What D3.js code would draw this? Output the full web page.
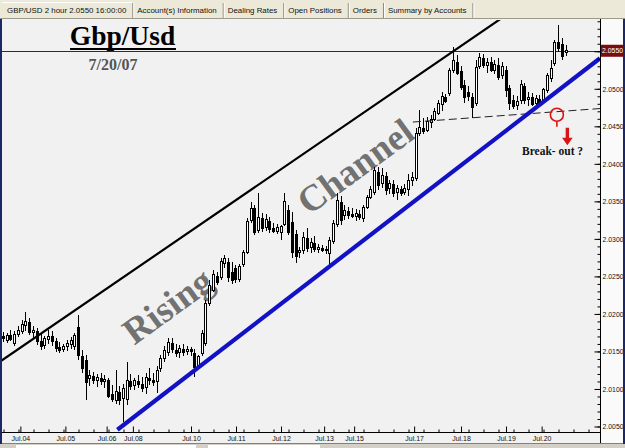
<!DOCTYPE html>
<html>
<head>
<meta charset="utf-8">
<script src="https://cdn.jsdelivr.net/npm/d3@7"></script>
<style>
  html, body { margin: 0; padding: 0; background: #ece9d8; overflow: hidden; }
  svg { display: block; }
</style>
</head>
<body>
<div id="chart"></div>
<script>
// GBP/USD 2 hour candles, Jul 04 - Jul 20 2007
const opens = [2.0170,2.0165,2.0171,2.0161,2.0173,2.0177,2.0185,2.0189,2.0175,2.0177,
  2.0163,2.0158,2.0166,2.0170,2.0163,2.0155,2.0153,2.0157,2.0159,2.0157,
  2.0182,2.0143,2.0138,2.0114,2.0117,2.0111,2.0114,2.0110,2.0111,2.0093,
  2.0085,2.0095,2.0087,2.0086,2.0110,2.0105,2.0110,2.0106,2.0102,2.0114,
  2.0111,2.0110,2.0127,2.0141,2.0149,2.0161,2.0151,2.0149,2.0153,2.0150,
  2.0153,2.0147,2.0131,2.0147,2.0161,2.0214,2.0231,2.0250,2.0249,2.0267,
  2.0269,2.0255,2.0261,2.0246,2.0266,2.0282,2.0325,2.0341,2.0311,2.0327,
  2.0315,2.0323,2.0314,2.0310,2.0309,2.0319,2.0338,2.0322,2.0306,2.0282,
  2.0285,2.0301,2.0289,2.0294,2.0286,2.0287,2.0285,2.0281,2.0297,2.0319,
  2.0349,2.0331,2.0337,2.0333,2.0330,2.0333,2.0327,2.0342,2.0355,2.0362,
  2.0389,2.0374,2.0383,2.0367,2.0373,2.0362,2.0366,2.0362,2.0366,2.0378,
  2.0381,2.0441,2.0447,2.0445,2.0455,2.0459,2.0467,2.0479,2.0489,2.0494,
  2.0525,2.0535,2.0523,2.0505,2.0495,2.0489,2.0481,2.0530,2.0541,2.0531,
  2.0535,2.0525,2.0531,2.0518,2.0525,2.0501,2.0485,2.0478,2.0485,2.0503,
  2.0486,2.0489,2.0481,2.0486,2.0483,2.0498,2.0514,2.0534,2.0562,2.0559,
  2.0549];
const highs = [2.0175,2.0174,2.0178,2.0177,2.0183,2.0191,2.0202,2.0194,2.0183,2.0181,
  2.0174,2.0170,2.0178,2.0177,2.0167,2.0162,2.0159,2.0165,2.0169,2.0174,
  2.0198,2.0151,2.0145,2.0125,2.0122,2.0119,2.0121,2.0118,2.0114,2.0105,
  2.0125,2.0103,2.0106,2.0135,2.0119,2.0114,2.0118,2.0115,2.0121,2.0127,
  2.0121,2.0130,2.0145,2.0157,2.0167,2.0167,2.0159,2.0158,2.0159,2.0157,
  2.0155,2.0153,2.0145,2.0178,2.0218,2.0245,2.0258,2.0255,2.0274,2.0278,
  2.0274,2.0269,2.0265,2.0266,2.0285,2.0327,2.0349,2.0345,2.0361,2.0334,
  2.0333,2.0329,2.0321,2.0319,2.0318,2.0361,2.0345,2.0335,2.0311,2.0289,
  2.0309,2.0314,2.0301,2.0303,2.0293,2.0291,2.0290,2.0302,2.0325,2.0361,
  2.0357,2.0345,2.0342,2.0341,2.0339,2.0338,2.0345,2.0358,2.0370,2.0395,
  2.0395,2.0394,2.0389,2.0378,2.0378,2.0371,2.0370,2.0373,2.0386,2.0389,
  2.0447,2.0471,2.0461,2.0462,2.0465,2.0474,2.0485,2.0495,2.0493,2.0527,
  2.0555,2.0545,2.0530,2.0511,2.0503,2.0494,2.0538,2.0547,2.0546,2.0541,
  2.0542,2.0538,2.0541,2.0535,2.0530,2.0505,2.0491,2.0490,2.0511,2.0507,
  2.0495,2.0494,2.0491,2.0491,2.0501,2.0521,2.0538,2.0565,2.0585,2.0567,
  2.0558];
const lows = [2.0162,2.0161,2.0163,2.0157,2.0169,2.0173,2.0177,2.0171,2.0167,2.0158,
  2.0151,2.0153,2.0159,2.0157,2.0149,2.0147,2.0149,2.0150,2.0153,2.0151,
  2.0138,2.0121,2.0085,2.0103,2.0106,2.0102,2.0105,2.0101,2.0087,2.0082,
  2.0079,2.0078,2.0055,2.0078,2.0098,2.0098,2.0101,2.0095,2.0093,2.0105,
  2.0103,2.0094,2.0122,2.0135,2.0143,2.0147,2.0142,2.0141,2.0143,2.0145,
  2.0143,2.0115,2.0127,2.0143,2.0157,2.0210,2.0229,2.0238,2.0245,2.0261,
  2.0242,2.0239,2.0241,2.0242,2.0262,2.0279,2.0321,2.0305,2.0307,2.0309,
  2.0310,2.0307,2.0307,2.0306,2.0298,2.0317,2.0305,2.0274,2.0267,2.0274,
  2.0279,2.0282,2.0281,2.0282,2.0281,2.0282,2.0279,2.0265,2.0293,2.0315,
  2.0318,2.0325,2.0326,2.0327,2.0323,2.0325,2.0322,2.0339,2.0353,2.0358,
  2.0365,2.0367,2.0358,2.0359,2.0355,2.0351,2.0357,2.0358,2.0357,2.0370,
  2.0377,2.0437,2.0439,2.0442,2.0447,2.0457,2.0465,2.0470,2.0481,2.0490,
  2.0521,2.0518,2.0498,2.0481,2.0483,2.0461,2.0477,2.0526,2.0527,2.0521,
  2.0522,2.0519,2.0511,2.0513,2.0489,2.0471,2.0473,2.0471,2.0479,2.0479,
  2.0477,2.0477,2.0475,2.0477,2.0479,2.0494,2.0509,2.0530,2.0549,2.0538,
  2.0543];
const closes = [2.0167,2.0171,2.0166,2.0173,2.0178,2.0186,2.0190,2.0175,2.0178,2.0163,
  2.0157,2.0167,2.0170,2.0163,2.0154,2.0151,2.0157,2.0161,2.0165,2.0171,
  2.0145,2.0127,2.0109,2.0118,2.0111,2.0115,2.0110,2.0113,2.0090,2.0086,
  2.0097,2.0085,2.0101,2.0111,2.0103,2.0111,2.0106,2.0101,2.0115,2.0111,
  2.0109,2.0125,2.0141,2.0151,2.0162,2.0153,2.0147,2.0154,2.0149,2.0153,
  2.0150,2.0129,2.0143,2.0174,2.0214,2.0238,2.0253,2.0242,2.0270,2.0274,
  2.0249,2.0245,2.0246,2.0263,2.0282,2.0323,2.0341,2.0309,2.0329,2.0314,
  2.0326,2.0313,2.0310,2.0315,2.0317,2.0350,2.0309,2.0282,2.0277,2.0285,
  2.0302,2.0287,2.0295,2.0286,2.0289,2.0285,2.0286,2.0298,2.0321,2.0351,
  2.0325,2.0338,2.0331,2.0330,2.0334,2.0329,2.0342,2.0355,2.0366,2.0391,
  2.0371,2.0385,2.0365,2.0374,2.0361,2.0367,2.0361,2.0367,2.0378,2.0382,
  2.0441,2.0449,2.0443,2.0457,2.0459,2.0470,2.0481,2.0490,2.0483,2.0525,
  2.0538,2.0521,2.0502,2.0489,2.0490,2.0475,2.0529,2.0542,2.0531,2.0535,
  2.0525,2.0533,2.0515,2.0530,2.0498,2.0481,2.0477,2.0483,2.0506,2.0485,
  2.0489,2.0479,2.0487,2.0481,2.0499,2.0518,2.0527,2.0562,2.0554,2.0543,
  2.0551];

// date axis: bar index where each label sits
const dateTicks = [4.5, 16.5, 27.5, 34.5, 50, 62, 74, 85.5, 93.5, 109.5, 122, 134, 143.5];
const dateLabels = ["Jul.04", "Jul.05", "Jul.06", "Jul.08", "Jul.10", "Jul.11", "Jul.12",
  "Jul.13", "Jul.15", "Jul.17", "Jul.18", "Jul.19", "Jul.20"];
const priceTicks = [2.0050, 2.0100, 2.0150, 2.0200, 2.0250, 2.0300, 2.0350, 2.0400, 2.0450, 2.0500, 2.0550];
const lastPrice = 2.0550;

// drawn lines, [bar index, price]
const upperChannel = [[-1, 2.0135], [134, 2.0597]];
const lowerChannel = [[30.5, 2.0045], [159.2, 2.0540]];
const supportLine = [[109.3, 2.0455], [159.2, 2.0473]];
const breakCircle = [147.7, 2.04647];
const breakArrow = [150.5, 2.04473];
const breakLabel = [138.4, 2.04113];
const risingLabel = [35.0, 2.0157];
const channelLabel = [81.5, 2.0330];

const tabs = ["GBP/USD 2 hour 2.0550 16:00:00", "Account(s) Information", "Dealing Rates",
  "Open Positions", "Orders", "Summary by Accounts"];

const width = 625, height = 448;
const plot = { left: 0, right: 600, top: 20, bottom: 432 };

const svg = d3.select("#chart").append("svg")
  .attr("width", width)
  .attr("height", height);

// window chrome
svg.append("rect").attr("width", width).attr("height", height).attr("fill", "#ece9d8");
svg.append("rect").attr("x", 0).attr("y", 19).attr("width", width).attr("height", 424).attr("fill", "#f1f1f1");
svg.append("rect").attr("x", 600).attr("y", 19).attr("width", 23).attr("height", 424).attr("fill", "#fafafa");

// tabs
const tabG = svg.append("g").attr("font-family", "Liberation Sans, Arial, sans-serif").attr("font-size", 7.9);
let tx = 2;
tabs.forEach((t, k) => {
  const txt = tabG.append("text").attr("x", tx + 5).attr("y", 12.5).attr("fill", "#111").text(t);
  const w = txt.node().getComputedTextLength();
  const sep = tx + w + 11;
  tabG.append("line").attr("x1", sep + 0.5).attr("x2", sep + 0.5).attr("y1", 3).attr("y2", 18).attr("stroke", "#808080");
  tabG.append("line").attr("x1", sep + 1.5).attr("x2", sep + 1.5).attr("y1", 3).attr("y2", 18).attr("stroke", "#fff");
  if (k === 0) {
    tabG.append("line").attr("x1", 2).attr("x2", sep).attr("y1", 2.5).attr("y2", 2.5).attr("stroke", "#fff");
  }
  tx = sep;
});
svg.append("line").attr("x1", 0).attr("x2", width).attr("y1", 18.5).attr("y2", 18.5).attr("stroke", "#9c9a8e");

const x = d3.scaleLinear().domain([-0.8, 159.2]).range([plot.left, plot.right]);
const y = d3.scaleLinear().domain([2.0042, 2.0591]).range([plot.bottom, plot.top]);
const px = i => Math.round(x(i)) + 0.5;

svg.append("clipPath").attr("id", "plotclip")
  .append("rect").attr("x", plot.left).attr("y", plot.top)
  .attr("width", plot.right - plot.left).attr("height", plot.bottom - plot.top);

const inner = svg.append("g").attr("clip-path", "url(#plotclip)");

// big rotated labels
const serif = "Liberation Serif, Times New Roman, serif";
[[risingLabel, "Rising"], [channelLabel, "Channel"]].forEach(([p, t]) => {
  inner.append("text")
    .attr("transform", `translate(${x(p[0])},${y(p[1])}) rotate(-36)`)
    .attr("font-family", serif).attr("font-weight", "bold").attr("font-size", 37)
    .attr("fill", "#727272")
    .text(t);
});

// current price line
inner.append("line")
  .attr("x1", plot.left).attr("x2", plot.right)
  .attr("y1", Math.round(y(lastPrice)) + 0.5).attr("y2", Math.round(y(lastPrice)) + 0.5)
  .attr("stroke", "#7a0c0c").attr("stroke-width", 1);

// candles
const candles = opens.map((o, i) => ({ i, o, h: highs[i], l: lows[i], c: closes[i] }));
const cg = inner.append("g").attr("shape-rendering", "crispEdges");
cg.selectAll("line.wick").data(candles).join("line")
  .attr("class", "wick")
  .attr("x1", d => px(d.i)).attr("x2", d => px(d.i))
  .attr("y1", d => Math.round(y(d.h))).attr("y2", d => Math.round(y(d.l)))
  .attr("stroke", "#000");
cg.selectAll("rect.body").data(candles).join("rect")
  .attr("class", "body")
  .attr("x", d => px(d.i) - 1)
  .attr("width", 2)
  .attr("y", d => Math.round(y(Math.max(d.o, d.c))) + 0.5)
  .attr("height", d => Math.max(1, Math.round(y(Math.min(d.o, d.c))) - Math.round(y(Math.max(d.o, d.c)))))
  .attr("fill", d => d.c >= d.o ? "#fff" : "#000")
  .attr("stroke", "#000");

// channel + support lines
const line = d3.line().x(d => x(d[0])).y(d => y(d[1]));
inner.append("path").datum(supportLine).attr("d", line)
  .attr("fill", "none").attr("stroke", "#222").attr("stroke-width", 1).attr("stroke-dasharray", "8,4");
inner.append("path").datum(upperChannel).attr("d", line)
  .attr("fill", "none").attr("stroke", "#000").attr("stroke-width", 2.2);
inner.append("path").datum(lowerChannel).attr("d", line)
  .attr("fill", "none").attr("stroke", "#1212c4").attr("stroke-width", 4.2);

// break-out annotation
const red = "#d81414";
const cx = x(breakCircle[0]), cy = y(breakCircle[1]);
inner.append("circle").attr("cx", cx).attr("cy", cy).attr("r", 6.5)
  .attr("fill", "none").attr("stroke", red).attr("stroke-width", 1.6);
inner.append("line").attr("x1", cx).attr("x2", cx).attr("y1", cy + 6.5).attr("y2", cy + 12)
  .attr("stroke", red).attr("stroke-width", 1.6);
const ax = x(breakArrow[0]), ay = y(breakArrow[1]);
inner.append("path")
  .attr("d", `M${ax - 1.7},${ay} h3.4 v10 h3.6 l-5.3,7.5 l-5.3,-7.5 h3.6 z`)
  .attr("fill", red);
inner.append("text")
  .attr("x", x(breakLabel[0])).attr("y", y(breakLabel[1]))
  .attr("font-family", serif).attr("font-weight", "bold").attr("font-size", 11.5)
  .attr("fill", "#111").text("Break- out ?");

// title
svg.append("text").attr("x", 122.5).attr("y", 45).attr("text-anchor", "middle")
  .attr("font-family", serif).attr("font-weight", "bold").attr("font-size", 27.5)
  .attr("fill", "#000").text("Gbp/Usd");
svg.append("line").attr("x1", 70).attr("x2", 176).attr("y1", 49).attr("y2", 49)
  .attr("stroke", "#000").attr("stroke-width", 2);
svg.append("text").attr("x", 113).attr("y", 70).attr("text-anchor", "middle")
  .attr("font-family", serif).attr("font-weight", "bold").attr("font-size", 16)
  .attr("fill", "#555").text("7/20/07");

// price axis
const axisFont = "Liberation Sans, Arial, sans-serif";
const minorPrice = d3.range(2.005, 2.0591, 0.001);
svg.append("g").attr("transform", `translate(${plot.right + 0.5},0.5)`)
  .call(d3.axisRight(y).tickValues(minorPrice).tickSizeInner(-3).tickSizeOuter(0).tickFormat(""))
  .call(g => g.select(".domain").remove());
const pAxis = svg.append("g").attr("transform", `translate(${plot.right + 0.5},0.5)`)
  .call(d3.axisRight(y).tickValues(priceTicks).tickSizeInner(-6).tickSizeOuter(0).tickPadding(2).tickFormat(d3.format(".4f")))
  .call(g => g.select(".domain").remove());
pAxis.selectAll("text").attr("font-family", axisFont).attr("font-size", 6.9).attr("fill", "#111");
svg.append("line").attr("x1", plot.right + 0.5).attr("x2", plot.right + 0.5)
  .attr("y1", 19).attr("y2", 443).attr("stroke", "#000");

// last price tag
const ly = y(lastPrice);
svg.append("rect").attr("x", 601).attr("y", ly - 6).attr("width", 22).attr("height", 12).attr("fill", "#7a0c0c");
svg.append("text").attr("x", 602).attr("y", ly + 2.5)
  .attr("font-family", axisFont).attr("font-size", 6.9).attr("fill", "#fff").text(d3.format(".4f")(lastPrice));

// date axis
const minorDate = d3.range(0, 160, 4);
svg.append("g").attr("transform", `translate(0.5,${plot.bottom + 0.5})`)
  .call(d3.axisBottom(x).tickValues(minorDate).tickSizeInner(-3).tickSizeOuter(0).tickFormat(""))
  .call(g => g.select(".domain").remove());
const dAxis = svg.append("g").attr("transform", `translate(0.5,${plot.bottom + 0.5})`)
  .call(d3.axisBottom(x).tickValues(dateTicks).tickSizeInner(-6).tickSizeOuter(0).tickPadding(4)
    .tickFormat((d, k) => dateLabels[k]))
  .call(g => g.select(".domain").remove());
dAxis.selectAll("text").attr("font-family", axisFont).attr("font-size", 7).attr("fill", "#111");
svg.append("line").attr("x1", 0).attr("x2", plot.right).attr("y1", plot.bottom + 0.5).attr("y2", plot.bottom + 0.5)
  .attr("stroke", "#000");

// status strip and frame
svg.append("rect").attr("x", 0).attr("y", 443).attr("width", width).attr("height", 5).attr("fill", "#d4d0c8");
svg.append("line").attr("x1", 0).attr("x2", width).attr("y1", 443.5).attr("y2", 443.5).attr("stroke", "#808080");
svg.append("rect").attr("x", 16).attr("y", 445).attr("width", 180).attr("height", 3).attr("fill", "#fff");
svg.append("rect").attr("x", 208).attr("y", 445).attr("width", 112).attr("height", 3).attr("fill", "#fff");
svg.append("rect").attr("x", 0).attr("y", 19).attr("width", 2).attr("height", 425).attr("fill", "#1c2866");
svg.append("rect").attr("x", 623).attr("y", 19).attr("width", 2).attr("height", 425).attr("fill", "#1c2866");
</script>
</body>
</html>
